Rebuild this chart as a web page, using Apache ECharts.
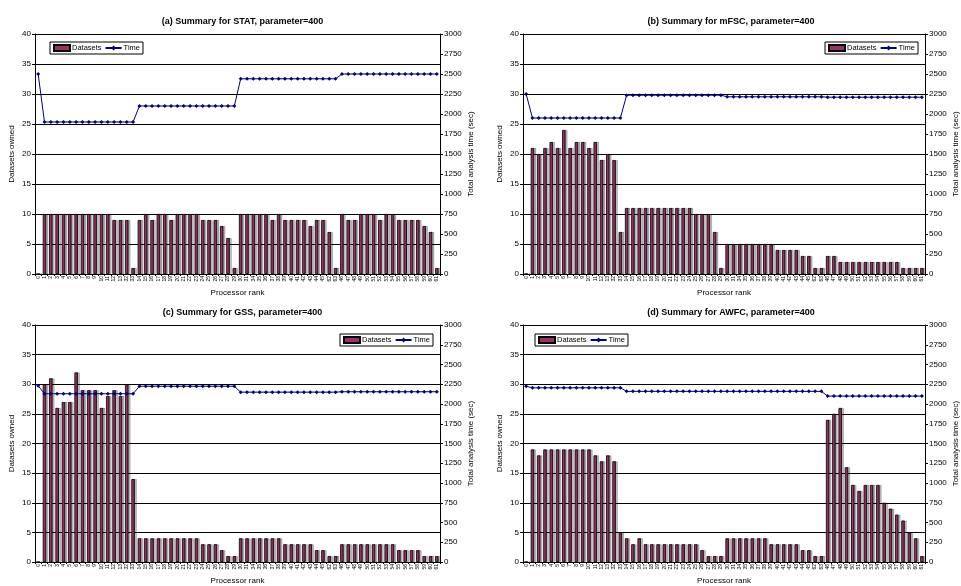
<!DOCTYPE html>
<html>
<head>
<meta charset="utf-8">
<title>summary</title>
<style>
  html, body { margin: 0; padding: 0; background: #fff; }
</style>
</head>
<body>
<div id="main" style="width: 961px;height:586px;"></div>
<script src="https://cdn.jsdelivr.net/npm/echarts@6/dist/echarts.min.js"></script>
<script>
// processor ranks, in the order they appear on the x axis
var ranks = ['0','1','2','3','4','5','6','7','8','9','10','11','12','13','32','33',
  '14','15','16','17','18','19','20','21','22','23','24','25','26','27','28','29','30','31',
  '34','35','36','37','38','39','40','41','42','43','44','45','62','63',
  '46','47','48','49','50','51','52','53','54','55','56','57','58','59','60','61'];

var statDatasets = [0,10,10,10,10,10,10,10,10,10,10,10,9,9,9,1,
  9,10,9,10,10,9,10,10,10,10,9,9,9,8,6,1,
  10,10,10,10,10,9,10,9,9,9,9,8,9,9,7,1,
  10,9,9,10,10,10,9,10,10,9,9,9,9,8,7,1];
var statTime = [2500,1900,1900,1900,1900,1900,1900,1900,1900,1900,1900,1900,1900,1900,1900,1900,
  2100,2100,2100,2100,2100,2100,2100,2100,2100,2100,2100,2100,2100,2100,2100,2100,
  2440,2440,2440,2440,2440,2440,2440,2440,2440,2440,2440,2440,2440,2440,2440,2440,
  2500,2500,2500,2500,2500,2500,2500,2500,2500,2500,2500,2500,2500,2500,2500,2500];

var mfscDatasets = [0,21,20,21,22,21,24,21,22,22,21,22,19,20,19,7,
  11,11,11,11,11,11,11,11,11,11,11,10,10,10,7,1,
  5,5,5,5,5,5,5,5,4,4,4,4,3,3,1,1,
  3,3,2,2,2,2,2,2,2,2,2,2,1,1,1,1];
var mfscTime = [2250,1950,1950,1950,1950,1950,1950,1950,1950,1950,1950,1950,1950,1950,1950,1950,
  2235,2235,2235,2235,2235,2235,2235,2235,2235,2235,2235,2235,2235,2235,2235,2235,
  2215,2215,2215,2215,2215,2215,2215,2215,2215,2215,2215,2215,2215,2215,2215,2215,
  2210,2210,2210,2210,2210,2210,2210,2210,2210,2210,2210,2210,2210,2210,2210,2210];

var gssDatasets = [0,30,31,26,27,27,32,29,29,29,26,28,29,28,30,14,
  4,4,4,4,4,4,4,4,4,4,3,3,3,2,1,1,
  4,4,4,4,4,4,4,3,3,3,3,3,2,2,1,1,
  3,3,3,3,3,3,3,3,3,2,2,2,2,1,1,1];
var gssTime = [2230,2130,2130,2130,2130,2130,2130,2130,2130,2130,2130,2130,2130,2130,2130,2130,
  2225,2225,2225,2225,2225,2225,2225,2225,2225,2225,2225,2225,2225,2225,2225,2225,
  2150,2150,2150,2150,2150,2150,2150,2150,2150,2150,2150,2150,2150,2150,2150,2150,
  2155,2155,2155,2155,2155,2155,2155,2155,2155,2155,2155,2155,2155,2155,2155,2155];

var awfcDatasets = [0,19,18,19,19,19,19,19,19,19,19,18,17,18,17,5,
  4,3,4,3,3,3,3,3,3,3,3,3,2,1,1,1,
  4,4,4,4,4,4,4,3,3,3,3,3,2,2,1,1,
  24,25,26,16,13,12,13,13,13,10,9,8,7,5,4,1];
var awfcTime = [2225,2205,2205,2205,2205,2205,2205,2205,2205,2205,2205,2205,2205,2205,2205,2205,
  2160,2160,2160,2160,2160,2160,2160,2160,2160,2160,2160,2160,2160,2160,2160,2160,
  2160,2160,2160,2160,2160,2160,2160,2160,2160,2160,2160,2160,2160,2160,2160,2160,
  2100,2100,2100,2100,2100,2100,2100,2100,2100,2100,2100,2100,2100,2100,2100,2100];

var titles = ['(a) Summary for STAT, parameter=400', '(b) Summary for mFSC, parameter=400',
  '(c) Summary for GSS, parameter=400', '(d) Summary for AWFC, parameter=400'];
var allDatasets = [statDatasets, mfscDatasets, gssDatasets, awfcDatasets];
var allTime = [statTime, mfscTime, gssTime, awfcTime];

var FONT = "'Liberation Sans Narrow', 'Liberation Sans', Arial, sans-serif";

// plot boxes and legend spots
var grids = [
  {left: 35, top: 34, width: 405, height: 240},
  {left: 523, top: 34, width: 406, height: 240},
  {left: 35, top: 325, width: 405, height: 240},
  {left: 523, top: 325, width: 406, height: 240}
];
var legendPos = [
  {left: 50, top: 42},
  {right: 43, top: 42},
  {right: 528, top: 334},
  {left: 535, top: 334}
];

var myChart = echarts.init(document.getElementById('main'));

var option = {
  backgroundColor: '#fff',
  animation: false,
  textStyle: {fontFamily: FONT},
  title: [], legend: [], grid: [], xAxis: [], yAxis: [], series: []
};

for (var i = 0; i < 4; i++) {
  var g = grids[i];
  option.title.push({
    text: titles[i],
    left: g.left + g.width / 2,
    top: g.top - 22,
    textAlign: 'center',
    textStyle: {fontSize: 9, fontWeight: 'bold', color: '#000', fontFamily: FONT}
  });
  var lg = {
    top: legendPos[i].top,
    orient: 'horizontal',
    backgroundColor: '#fff',
    borderColor: '#000',
    borderWidth: 1,
    padding: [2, 3],
    itemGap: 3,
    itemWidth: 16,
    itemHeight: 6,
    textStyle: {fontSize: 7.5, color: '#000', fontFamily: FONT, padding: [0, 0, 0, -3]},
    data: [{name: 'Datasets', icon: 'rect'}, {name: 'Time'}]
  };
  if (legendPos[i].left != null) lg.left = legendPos[i].left; else lg.right = legendPos[i].right;
  option.legend.push(lg);
  option.grid.push({left: g.left, top: g.top, width: g.width, height: g.height, containLabel: false});
  option.xAxis.push({
    type: 'category',
    gridIndex: i,
    data: ranks,
    name: 'Processor rank',
    nameLocation: 'middle',
    nameGap: 15,
    nameTextStyle: {fontSize: 8, color: '#000', fontFamily: FONT},
    axisLine: {lineStyle: {color: '#000', width: 1}},
    axisTick: {show: true, length: 2, lineStyle: {color: '#000'}},
    axisLabel: {interval: 0, rotate: 90, fontSize: 5, color: '#000', margin: 2, fontFamily: FONT}
  });
  option.yAxis.push({
    type: 'value',
    gridIndex: i,
    min: 0, max: 40, interval: 5,
    position: 'left',
    name: 'Datasets owned',
    nameLocation: 'middle',
    nameRotate: 90,
    nameGap: 19,
    nameTextStyle: {fontSize: 8, color: '#000', fontFamily: FONT},
    axisLine: {show: true, lineStyle: {color: '#000', width: 1}},
    axisTick: {show: true, length: 3, lineStyle: {color: '#000'}},
    axisLabel: {fontSize: 8, color: '#000', margin: 4, fontFamily: FONT},
    splitLine: {show: true, lineStyle: {color: '#000', width: 1}}
  });
  option.yAxis.push({
    type: 'value',
    gridIndex: i,
    min: 0, max: 3000, interval: 250,
    position: 'right',
    name: 'Total analysis time (sec)',
    nameLocation: 'middle',
    nameRotate: 90,
    nameGap: 27,
    nameTextStyle: {fontSize: 8, color: '#000', fontFamily: FONT},
    axisLine: {show: true, lineStyle: {color: '#000', width: 1}},
    axisTick: {show: true, length: 3, lineStyle: {color: '#000'}},
    axisLabel: {
      fontSize: 8, color: '#000', margin: 4, fontFamily: FONT,
      formatter: function (v) { return String(v); }
    },
    splitLine: {show: false}
  });
  option.series.push({
    name: 'Datasets',
    type: 'bar',
    xAxisIndex: i,
    yAxisIndex: i * 2,
    data: allDatasets[i],
    barWidth: '55%',
    itemStyle: {
      color: '#993366',
      borderColor: '#000',
      borderWidth: 0.8,
      shadowColor: 'rgba(0,0,0,0.25)',
      shadowBlur: 0.1,
      shadowOffsetX: 2,
      shadowOffsetY: 0
    }
  });
  option.series.push({
    name: 'Time',
    type: 'line',
    xAxisIndex: i,
    yAxisIndex: i * 2 + 1,
    data: allTime[i],
    symbol: 'diamond',
    symbolSize: 4,
    lineStyle: {color: '#000080', width: 1},
    itemStyle: {color: '#000080'},
    z: 5
  });
}

myChart.setOption(option);
</script>
</body>
</html>
